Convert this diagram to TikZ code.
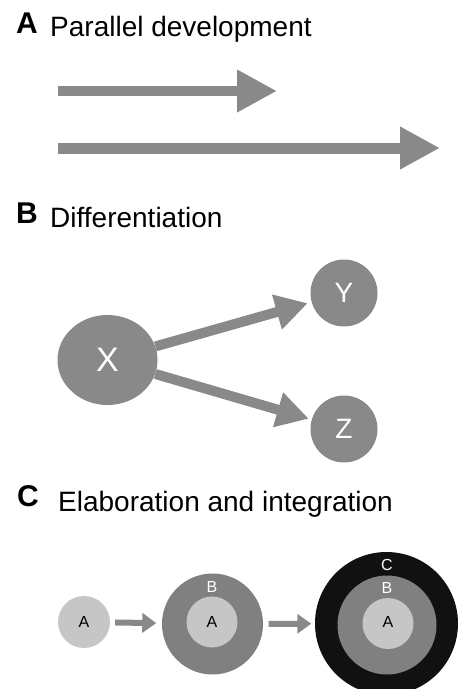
\documentclass[tikz,border=0pt]{standalone}
\usepackage{fontspec}
\setmainfont{Liberation Sans}
\usetikzlibrary{arrows.meta,shapes.geometric}
\definecolor{midgray}{RGB}{137,137,137}
\definecolor{ringgray}{RGB}{128,128,128}
\definecolor{lightgray2}{RGB}{198,198,198}
\definecolor{nearblack}{RGB}{17,17,17}
\tikzset{
  panelletter/.style={anchor=base west, inner sep=0pt, font=\fontsize{30}{32}\selectfont\bfseries},
  paneltitle/.style={anchor=base west, inner sep=0pt, font=\fontsize{28}{30}\selectfont},
  bigarrow/.style={draw=midgray, line width=10pt, -{Triangle[length=40pt,width=40pt]}},
  diffarrow/.style={draw=midgray, line width=10pt, -{Triangle[length=32pt,width=34pt]}},
  smallarrow/.style={draw=midgray, line width=6pt, -{Triangle[length=14pt,width=19pt]}},
  graynode/.style={fill=midgray, draw=none, text=white, inner sep=0pt},
  disc/.style={circle, draw=none, inner sep=0pt},
  ringlabel/.style={inner sep=0pt, font=\fontsize{16}{16}\selectfont}
}
\begin{document}
\begin{tikzpicture}[x=1pt,y=-1pt]
\useasboundingbox (0,0) rectangle (458,689);
% Panel A
\node[panelletter] (la) at (16,33) {A};
\node[paneltitle] (ta) at (50,36) {Parallel development};
\coordinate (a1s) at (58,91);
\coordinate (a1e) at (277,91);
\coordinate (a2s) at (58,148);
\coordinate (a2e) at (440,148);
\draw[bigarrow] (a1s) -- (a1e);
\draw[bigarrow, line width=11pt] (a2s) -- (a2e);
% Panel B
\node[panelletter] (lb) at (16,223) {B};
\node[paneltitle] (tb) at (50,227) {Differentiation};
\node[graynode, ellipse, minimum width=100pt, minimum height=90pt,
      font=\fontsize{34}{34}\selectfont] (X) at (107.5,360) {X};
\node[graynode, circle, minimum size=67pt, font=\fontsize{28}{28}\selectfont] (Y) at (344,293) {Y};
\node[graynode, circle, minimum size=67pt, font=\fontsize{28}{28}\selectfont] (Z) at (344,429) {Z};
\draw[diffarrow, shorten >=4pt] (X) -- (Y);
\draw[diffarrow, shorten >=3pt] (X) -- (Z);
% Panel C
\node[panelletter] (lc) at (17,506) {C};
\node[paneltitle] (tc) at (58,511) {Elaboration and integration};
% stage 1
\node[disc, fill=lightgray2, minimum size=52pt] (c1) at (84,622) {};
\node[ringlabel] (c1a) at (84,622) {A};
% stage 2
\node[disc, fill=ringgray, minimum size=101pt] (c2) at (212.5,624) {};
\node[disc, fill=lightgray2, minimum size=51pt] (c2in) at (212,622) {};
\node[ringlabel] (c2a) at (212,622) {A};
\node[ringlabel, text=white] (c2b) at (212,587) {B};
% stage 3
\node[disc, fill=nearblack, minimum size=143pt] (c3) at (386.5,623.5) {};
\node[disc, fill=ringgray, minimum size=99pt] (c3mid) at (387,625) {};
\node[disc, fill=lightgray2, minimum size=51pt] (c3in) at (388,623.5) {};
\node[ringlabel] (c3a) at (388,622) {A};
\node[ringlabel, text=white] (c3b) at (387,588) {B};
\node[ringlabel, text=white] (c3c) at (387,565) {C};
% arrows
\draw[smallarrow, shorten <=5pt, shorten >=5.5pt] (c1) -- (c2);
\draw[smallarrow, shorten <=5.5pt, shorten >=3.5pt] (c2) -- (c3);
\end{tikzpicture}
\end{document}
